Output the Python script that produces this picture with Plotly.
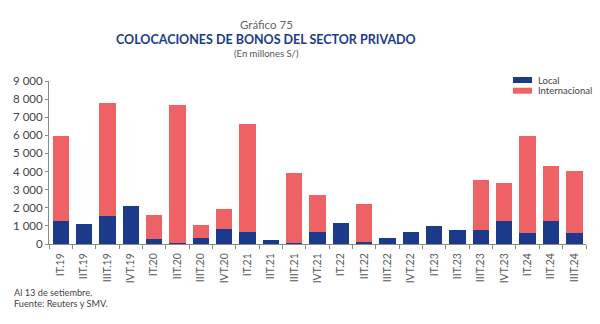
import plotly.graph_objects as go

# Quarterly private-sector bond placements (millions of soles)
periods = ["IT.19", "IIT.19", "IIIT.19", "IVT.19", "IT.20", "IIT.20", "IIIT.20", "IVT.20",
           "IT.21", "IIT.21", "IIIT.21", "IVT.21", "IT.22", "IIT.22", "IIIT.22", "IVT.22",
           "IT.23", "IIT.23", "IIIT.23", "IVT.23", "IT.24", "IIT.24", "IIIT.24"]
local = [1290, 1130, 1530, 2080, 280, 40, 320, 850,
         690, 240, 80, 690, 1160, 130, 350, 690,
         1010, 790, 760, 1250, 610, 1270, 590]
internacional = [4700, 0, 6240, 0, 1300, 7640, 730, 1100,
                 5920, 0, 3830, 2010, 0, 2060, 0, 0,
                 0, 0, 2790, 2130, 5360, 3010, 3430]

BLUE = "#1b3a8a"
RED = "#ee6165"
FONT = "Lato"

fig = go.Figure()
fig.add_trace(go.Bar(x=periods, y=local, name="Local", marker_color=BLUE,
                     marker_line_width=0))
fig.add_trace(go.Bar(x=periods, y=internacional, name="Internacional",
                     marker_color=RED, marker_line_width=0))

fig.update_layout(
    barmode="stack",
    bargap=0.3,
    width=600, height=324,
    margin=dict(l=49, r=14, t=81, b=80),
    paper_bgcolor="white", plot_bgcolor="white",
    showlegend=False,
    separators=", ",
    font=dict(family=FONT, color="#444444"),
)

fig.update_xaxes(
    type="category",
    showline=True, linecolor="#8a8a8a", linewidth=1,
    ticks="outside", tickson="boundaries", ticklen=4, tickcolor="#8a8a8a",
    tickangle=-90, tickfont=dict(size=10.5, color="#5a5a5a"),
    ticklabelstandoff=4,
    showgrid=False,
)
fig.update_yaxes(
    range=[0, 9000], dtick=1000, tickformat=",d",
    showline=True, linecolor="#8a8a8a", linewidth=1,
    ticks="outside", ticklen=3, tickcolor="#8a8a8a",
    tickfont=dict(size=11.5, color="#444444"),
    showgrid=False, zeroline=False,
)

# Plot area: 163 px tall, baseline at 244 px from top
def py(pixel_y):
    return (244 - pixel_y) / 163

def px(pixel_x):
    return (pixel_x - 49) / 537

TITLE_X = px(266)

# Titles
fig.add_annotation(text="Gráfico 75", x=TITLE_X, y=py(24), xref="paper", yref="paper",
                   xanchor="center", yanchor="middle", showarrow=False,
                   font=dict(size=11.5, color="#666666", family=FONT))
fig.add_annotation(text="<b>COLOCACIONES DE BONOS DEL SECTOR PRIVADO</b>", x=TITLE_X,
                   y=py(39.5), xref="paper", yref="paper", xanchor="center",
                   yanchor="middle", showarrow=False,
                   font=dict(size=12.5, color="#1b3a8a", family=FONT))
fig.add_annotation(text="(En millones S/)", x=TITLE_X, y=py(53.5), xref="paper",
                   yref="paper", xanchor="center", yanchor="middle", showarrow=False,
                   font=dict(size=9.5, color="#555555", family=FONT))

# Legend drawn as wide swatches with labels
for label, color, cy in [("Local", BLUE, 80), ("Internacional", RED, 90.7)]:
    fig.add_shape(type="rect", xref="paper", yref="paper",
                  x0=px(513), x1=px(532), y0=py(cy + 3), y1=py(cy - 3),
                  fillcolor=color, line_width=0)
    fig.add_annotation(text=label, x=px(536), y=py(cy), xref="paper", yref="paper",
                       xanchor="left", yanchor="middle", showarrow=False,
                       font=dict(size=9.5, color="#444444", family=FONT))

# Footnotes
fig.add_annotation(text="Al 13 de setiembre.", x=px(12), y=py(292.7), xref="paper",
                   yref="paper", showarrow=False, xanchor="left", yanchor="middle",
                   font=dict(size=9.2, color="#444444", family=FONT))
fig.add_annotation(text="Fuente: Reuters y SMV.", x=px(12), y=py(303.3), xref="paper",
                   yref="paper", showarrow=False, xanchor="left", yanchor="middle",
                   font=dict(size=9.2, color="#444444", family=FONT))

fig.write_html("out.html")
